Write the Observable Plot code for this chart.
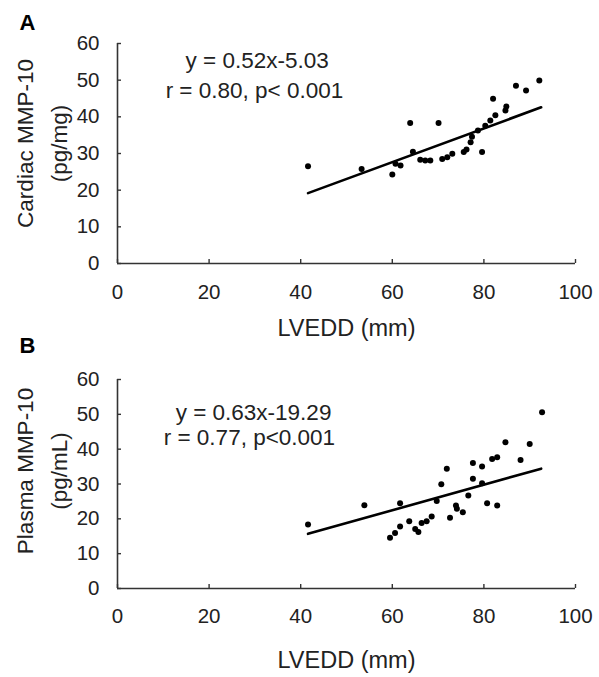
<!DOCTYPE html>
<html>
<head>
<meta charset="utf-8">
<script src="https://cdn.jsdelivr.net/npm/d3@7"></script>
<script src="https://cdn.jsdelivr.net/npm/@observablehq/plot@0.6"></script>
<style>
  body { margin: 0; background: #fff; }
  #chart { width: 599px; }
  svg { display: block; }
</style>
</head>
<body>
<div id="chart"></div>
<script>
// Panel A: cardiac MMP-10 vs LVEDD
const cardiacLVEDD = [41.6, 53.3, 60.0, 60.7, 61.8, 63.9, 64.5, 66.1, 67.2, 68.3, 70.1, 70.9, 72.0, 73.1, 75.6, 76.2, 77.1, 77.4, 79.6, 78.7, 80.3, 81.4, 82.5, 82.0, 84.7, 84.9, 87.0, 89.2, 92.1];
const cardiacMMP = [26.5, 25.8, 24.3, 27.2, 26.7, 38.3, 30.5, 28.3, 28.1, 28.1, 38.3, 28.5, 29.0, 29.9, 30.4, 31.1, 33.1, 34.6, 30.4, 36.3, 37.6, 39.0, 40.4, 44.9, 41.7, 42.8, 48.5, 47.2, 49.9];
const cardiacFitX = [41.6, 92.5];
const cardiacFitY = [19.2, 42.6];

// Panel B: plasma MMP-10 vs LVEDD
const plasmaLVEDD = [41.6, 53.9, 59.5, 60.6, 61.7, 61.7, 63.7, 65.0, 65.7, 66.4, 67.5, 68.6, 69.7, 70.7, 71.9, 72.6, 73.9, 74.1, 75.4, 76.6, 77.6, 77.6, 79.6, 79.6, 80.7, 81.8, 82.9, 82.9, 84.7, 88.0, 90.0, 92.7];
const plasmaMMP = [18.4, 23.9, 14.6, 15.9, 17.8, 24.5, 19.3, 17.1, 16.2, 18.8, 19.3, 20.7, 25.1, 29.9, 34.4, 20.3, 23.8, 22.9, 21.9, 26.7, 31.5, 36.0, 35.0, 30.2, 24.5, 37.2, 37.7, 23.8, 42.0, 36.9, 41.5, 50.6];
const plasmaFitX = [41.6, 92.5];
const plasmaFitY = [15.7, 34.4];

const xTicks = [0, 20, 40, 60, 80, 100];
const yTicks = [0, 10, 20, 30, 40, 50, 60];

const FONT = "'Liberation Sans', Arial, sans-serif";
const INK = "#222";

function panel(cfg) {
  const pts = cfg.xs.map((x, i) => ({x, y: cfg.ys[i]}));
  const fit = cfg.fx.map((x, i) => ({x, y: cfg.fy[i]}));
  return Plot.plot({
    width: 599,
    height: cfg.height,
    marginLeft: 117,
    marginRight: 24,
    marginTop: cfg.marginTop,
    marginBottom: cfg.marginBottom,
    style: {fontFamily: FONT, color: INK, background: "#fff", overflow: "visible"},
    x: {domain: [0, 100], ticks: xTicks},
    y: {domain: [0, 60], ticks: yTicks},
    marks: [
      Plot.ruleX([0], {stroke: "#333", strokeWidth: 1.6}),
      Plot.ruleY([0], {stroke: "#333", strokeWidth: 1.6}),
      Plot.axisX(xTicks, {tickSize: -4, text: null, label: null, stroke: "#333", strokeWidth: 1.4}),
      Plot.axisY(yTicks, {tickSize: -4, text: null, label: null, stroke: "#333", strokeWidth: 1.4}),
      Plot.axisX(xTicks, {tickSize: 0, tickPadding: cfg.xTickPad, fontSize: 20.5, fill: INK, label: null}),
      Plot.axisY(yTicks, {tickSize: 0, tickPadding: 18, fontSize: 20.5, fill: INK, label: null}),
      Plot.line(fit, {x: "x", y: "y", stroke: "#000", strokeWidth: 2.6}),
      Plot.dot(pts, {x: "x", y: "y", r: 3, fill: "#000", stroke: "none"}),
      Plot.text([cfg.eq], {x: cfg.eqX, y: cfg.eqY, text: d => d, fontSize: 22.5, fill: INK, textAnchor: "middle"}),
      Plot.text([cfg.stat], {x: cfg.statX, y: cfg.statY, text: d => d, fontSize: 22.5, fill: INK, textAnchor: "middle"}),
      Plot.text([cfg.ylab1], {frameAnchor: "left", dx: -92, dy: cfg.ylabDy, rotate: -90, text: d => d, fontSize: 22.5, fill: INK, textAnchor: "middle", lineAnchor: "middle"}),
      Plot.text([cfg.ylab2], {frameAnchor: "left", dx: -58, dy: cfg.ylabDy, rotate: -90, text: d => d, fontSize: 22.5, fill: INK, textAnchor: "middle", lineAnchor: "middle"}),
      Plot.text(["LVEDD (mm)"], {frameAnchor: "bottom", dy: cfg.xlabDy, text: d => d, fontSize: 23.5, fill: INK, textAnchor: "middle", lineAnchor: "middle"}),
      Plot.text([cfg.letter], {frameAnchor: "top-left", dx: -90, dy: cfg.letterDy, text: d => d, fontSize: 22, fontWeight: "bold", fill: "#000", textAnchor: "middle", lineAnchor: "middle"})
    ]
  });
}

const chart = document.getElementById("chart");
chart.append(panel({
  xs: cardiacLVEDD, ys: cardiacMMP, fx: cardiacFitX, fy: cardiacFitY,
  height: 338, marginTop: 43, marginBottom: 75, xTickPad: 21,
  eq: "y = 0.52x-5.03", eqX: 30.5, eqY: 55.4,
  stat: "r = 0.80, p< 0.001", statX: 29.9, statY: 47.2,
  ylab1: "Cardiac MMP-10", ylab2: "(pg/mg)", ylabDy: -10,
  xlabDy: 65, letter: "A", letterDy: -21
}));
chart.append(panel({
  xs: plasmaLVEDD, ys: plasmaMMP, fx: plasmaFitX, fy: plasmaFitY,
  height: 339, marginTop: 41, marginBottom: 89, xTickPad: 20,
  eq: "y = 0.63x-19.29", eqX: 29.7, eqY: 50.5,
  stat: "r = 0.77, p<0.001", statX: 28.8, statY: 43.4,
  ylab1: "Plasma MMP-10", ylab2: "(pg/mL)", ylabDy: -13,
  xlabDy: 72, letter: "B", letterDy: -34
}));
</script>
</body>
</html>
